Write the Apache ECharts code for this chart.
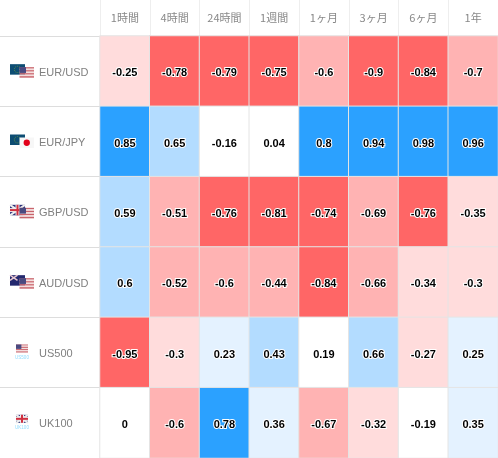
<!DOCTYPE html>
<html><head><meta charset="utf-8">
<style>html,body{margin:0;padding:0;background:#fff}#c{width:498px;height:458px}</style>
<script src="https://cdn.jsdelivr.net/npm/echarts@6/dist/echarts.min.js"></script>
</head><body><div id="c"></div>
<script>
const periods = ['1時間','4時間','24時間','1週間','1ヶ月','3ヶ月','6ヶ月','1年'];
const instruments = ['EUR/USD','EUR/JPY','GBP/USD','AUD/USD','US500','UK100'];
const eurUsd = [-0.25,-0.78,-0.79,-0.75,-0.6,-0.9,-0.84,-0.7];
const eurJpy = [0.85,0.65,-0.16,0.04,0.8,0.94,0.98,0.96];
const gbpUsd = [0.59,-0.51,-0.76,-0.81,-0.74,-0.69,-0.76,-0.35];
const audUsd = [0.6,-0.52,-0.6,-0.44,-0.84,-0.66,-0.34,-0.3];
const us500 = [-0.95,-0.3,0.23,0.43,0.19,0.66,-0.27,0.25];
const uk100 = [0,-0.6,0.78,0.36,-0.67,-0.32,-0.19,0.35];
const rows = [eurUsd,eurJpy,gbpUsd,audUsd,us500,uk100];
const flagKinds = [['eu','us'],['eu','jp'],['gb','us'],['au','us'],['us'],['gb']];
const indexCaptions = ['','','','','US500','UK100'];

const cells = [];
rows.forEach((r,y)=>r.forEach((v,x)=>cells.push([x,y,v])));

function flag(kind,x,y,w,h){
  const out=[];
  const rect=(a,b,c,d,fill)=>out.push({type:'rect',shape:{x:a,y:b,width:c,height:d},style:{fill}});
  if(kind==='us'){
    for(let i=0;i<7;i++){rect(x,y+i*h/7,w,h/7,i%2?'#f3dede':'#c9646c');}
    rect(x,y,w*0.45,h*0.55,'#4a4a80');
  }else if(kind==='eu'){
    rect(x,y,w,h,'#0d4d73');
    out.push({type:'circle',shape:{cx:x+w/2,cy:y+h/2,r:h*0.3},style:{fill:'none',stroke:'#5f8f4a',lineWidth:1,lineDash:[1,1]}});
  }else if(kind==='jp'){
    rect(x,y,w,h,'#f7f7f7');
    out.push({type:'circle',shape:{cx:x+w/2,cy:y+h/2,r:h*0.3},style:{fill:'#e2001a'}});
  }else if(kind==='au'){
    rect(x,y,w,h,'#23286e');
    out.push({type:'line',shape:{x1:x,y1:y,x2:x+w*.5,y2:y+h*.5},style:{stroke:'#e8c8d0',lineWidth:1.5}});
    out.push({type:'line',shape:{x1:x+w*.5,y1:y,x2:x,y2:y+h*.5},style:{stroke:'#e8c8d0',lineWidth:1.5}});
    out.push({type:'circle',shape:{cx:x+w*.75,cy:y+h*.5,r:1},style:{fill:'#fff'}});
  }else{
    rect(x,y,w,h,'#2a2f78');
    out.push({type:'line',shape:{x1:x,y1:y,x2:x+w,y2:y+h},style:{stroke:'#eee',lineWidth:2}});
    out.push({type:'line',shape:{x1:x+w,y1:y,x2:x,y2:y+h},style:{stroke:'#eee',lineWidth:2}});
    rect(x,y+h/2-2,w,4,'#eee');rect(x+w/2-2,y,4,h,'#eee');
    rect(x,y+h/2-1,w,2,'#d03040');rect(x+w/2-1,y,2,h,'#d03040');
  }
  return out;
}

const chart = echarts.init(document.getElementById('c'),null,{renderer:'canvas'});
chart.setOption({
  animation:false,
  backgroundColor:'#fff',
  grid:{left:100,right:0,top:36,bottom:0,containLabel:false},
  xAxis:{type:'category',data:periods,position:'top',
    axisLine:{show:false},
    axisTick:{show:true,length:36,lineStyle:{color:'#eeeeee',width:1}},
    axisLabel:{color:'#888',fontSize:11,fontFamily:'"Noto Sans CJK JP",sans-serif',margin:13},
    splitLine:{show:false}},
  yAxis:{type:'category',data:instruments,inverse:true,
    axisLine:{show:false},
    axisTick:{show:true,length:100,lineStyle:{color:'#dddddd',width:1}},
    axisLabel:{align:'left',margin:61,formatter:v=>'{n|'+v+'}',
      rich:{n:{color:'#808080',fontSize:11,fontFamily:'"Liberation Sans",Arial,sans-serif',padding:[3,0,0,0]}}},
    splitLine:{show:false}},
  visualMap:{show:false,type:'piecewise',dimension:2,seriesIndex:0,pieces:[
    {lt:-0.7,color:'#ff6666'},
    {gte:-0.7,lt:-0.4,color:'#ffb3b3'},
    {gte:-0.4,lt:-0.2,color:'#ffdcdc'},
    {gte:-0.2,lte:0.2,color:'#ffffff'},
    {gt:0.2,lt:0.4,color:'#e4f2ff'},
    {gte:0.4,lte:0.7,color:'#b3dcff'},
    {gt:0.7,color:'#2ba1ff'}]},
  series:[{
    type:'heatmap',data:cells,
    itemStyle:{borderColor:'#e4e4e4',borderWidth:1},
    label:{show:true,offset:[0,2],formatter:p=>String(p.value[2]),color:'#000',fontSize:11,fontWeight:'bold',
      fontFamily:'"Liberation Sans",Arial,sans-serif',textBorderColor:'#fff',textBorderWidth:2},
    emphasis:{disabled:true}
  },{
    type:'custom',coordinateSystem:'cartesian2d',silent:true,clip:false,z:5,
    data:instruments.map((n,i)=>[0,i]),
    renderItem:(params,api)=>{
      const i=api.value(1), p=api.coord([0,i]);
      const cy=p[1]+1;
      const L=p[0]-api.size([1,0])[0]/2-100;
      const kinds=flagKinds[i], kids=[];
      if(kinds.length===2){
        kids.push(...flag(kinds[0],L+10,cy-8,15,10.5));
        kids.push(...flag(kinds[1],L+19.5,cy-5,14.5,10.5));
      }else{
        kids.push(...flag(kinds[0],L+16,cy-9,12,8));
        kids.push({type:'text',style:{text:indexCaptions[i],x:L+22,y:cy+4,align:'center',verticalAlign:'middle',fontSize:4.5,fill:'#8fdcff',fontFamily:'"Liberation Sans",sans-serif'}});
      }
      return {type:'group',children:kids};
    }
  }]
});
</script></body></html>
